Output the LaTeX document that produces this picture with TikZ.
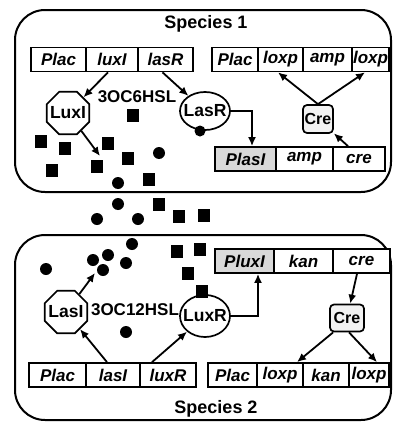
\documentclass[tikz,border=0pt]{standalone}
\usepackage{fontspec}
\setmainfont{Liberation Sans}
\usetikzlibrary{shapes.geometric,arrows.meta}
\begin{document}
\begin{tikzpicture}[x=1pt,y=-1pt,
  bigbox/.style={draw, line width=2pt, rounded corners=30pt},
  genecell/.style={draw, line width=1.7pt, minimum height=24pt, inner sep=0pt, fill=white,
    font=\fontsize{17}{17}\selectfont\bfseries\itshape},
  promcell/.style={genecell, fill=gray!30},
  octo/.style={draw, line width=1.7pt, regular polygon, regular polygon sides=8,
    minimum size=46pt, inner sep=0pt, fill=white, font=\fontsize{17.5}{17.5}\selectfont\bfseries},
  protein/.style={draw, line width=1.7pt, ellipse, inner sep=0pt, fill=white,
    font=\fontsize{17.5}{17.5}\selectfont\bfseries},
  crebox/.style={draw, line width=1.7pt, rounded corners=4pt, fill=gray!10,
    minimum width=32pt, minimum height=28pt, inner sep=0pt, font=\fontsize{16}{16}\selectfont\bfseries},
  labeltext/.style={font=\fontsize{18}{18}\selectfont\bfseries, inner sep=0pt},
  hsltext/.style={font=\fontsize{17}{17}\selectfont\bfseries, inner sep=0pt},
  arw/.style={line width=1.8pt, -{Latex[length=9pt,width=8pt]}},
  sqmol/.style={fill=black, minimum width=12pt, minimum height=13pt, inner sep=0pt},
  dotmol/.style={circle, fill=black, minimum size=12pt, inner sep=0pt}
]
\useasboundingbox (0,0) rectangle (393,423);
\fill[white] (0,0) rectangle (393,423);

% cell outlines
\draw[bigbox] (15,10) rectangle (391,192);
\draw[bigbox] (15,235) rectangle (391,420);

\node[labeltext] (sp1) at (206,24) {Species 1};
\node[labeltext] (sp2) at (216,409) {Species 2};

% ---------- Species 1 ----------
\node[genecell, minimum width=55pt] (aplac) at (58.5,59.5) {Plac};
\node[genecell, minimum width=52pt] (aluxi) at (112,59.5) {luxI};
\node[genecell, minimum width=55pt] (alasr) at (165.5,59.5) {lasR};

\node[genecell, minimum width=46pt] (bplac) at (235,59.5) {Plac};
\node[genecell, minimum width=45pt] (bloxa) at (280.5,59.5) {loxp};
\node[genecell, minimum width=49pt] (bamp) at (327.5,59.5) {amp};
\node[genecell, minimum width=37pt] (bloxb) at (370.5,59.5) {loxp};

\node[promcell, minimum width=61pt] (cplas) at (245.5,159) {PlasI};
\node[genecell, minimum width=57pt] (camp) at (304.5,159) {amp};
\node[genecell, minimum width=52pt] (ccre) at (359,159) {cre};

\node[octo] (luxi) at (68,113) {\makebox[0pt]{LuxI}};
\node[hsltext] (hsl6) at (137,97) {3OC6HSL};
\node[protein, minimum width=50pt, minimum height=38pt] (lasr) at (205,111) {\makebox[0pt]{LasR}};
\node[dotmol, minimum size=11pt] (lasrdot) at (200,131) {};
\node[crebox, minimum width=30pt] (creA) at (318,119) {Cre};

\coordinate (luxiout) at (100,156);
\draw[arw] ([xshift=-4pt]aluxi.south) -- (luxi);
\draw[arw] ([xshift=-3pt]alasr.south) -- (lasr);
\draw[arw] (luxi) -- (luxiout);
\draw[arw] (lasr.east) -| ([xshift=6.5pt]cplas.north);
\draw[arw] (creA.north) -- ([xshift=-2.5pt]bloxa.south);
\draw[arw] (creA.north) -- ([xshift=-5.5pt]bloxb.south);
\draw[arw] ([xshift=-11pt]ccre.north) -- (creA);

% ---------- Species 2 ----------
\node[genecell, minimum width=57pt] (dplac) at (57.5,375) {Plac};
\node[genecell, minimum width=54pt] (dlasi) at (113,375) {lasI};
\node[genecell, minimum width=56pt] (dluxr) at (168,375) {luxR};

\node[genecell, minimum width=49pt] (eplac) at (232.5,375) {Plac};
\node[genecell, minimum width=46pt] (eloxa) at (280,375) {loxp};
\node[genecell, minimum width=46pt] (ekan) at (326,375) {kan};
\node[genecell, minimum width=40pt] (eloxb) at (369,375) {loxp};

\node[promcell, minimum width=59pt] (fplux) at (244.5,261) {PluxI};
\node[genecell, minimum width=59pt] (fkan) at (303.5,261) {kan};
\node[genecell, minimum width=57pt] (fcre) at (361.5,261) {cre};

\node[octo] (lasi) at (66,312) {\makebox[0pt]{LasI}};
\node[hsltext] (hsl12) at (135,310) {3OC12HSL};
\node[protein, minimum width=50pt, minimum height=42pt] (luxr) at (205,316) {\makebox[0pt]{LuxR}};
\node[crebox, minimum width=34pt, minimum height=27pt] (creB) at (347,318) {Cre};

\coordinate (lasiout) at (95,273);
\draw[arw] ([xshift=-6pt]dlasi.north) -- (lasi);
\draw[arw] ([xshift=-16pt]dluxr.north) -- (luxr);
\draw[arw] (lasi) -- (lasiout);
\draw[arw] (luxr.east) -| ([xshift=13.5pt]fplux.south);
\draw[arw] ([xshift=-4.5pt]fcre.south) -- (creB);
\draw[arw] ([xshift=4pt]creB.south west) -- ([xshift=17pt]eloxa.north);
\draw[arw] ([xshift=2pt]creB.south) -- ([xshift=8pt]eloxb.north);

% ---------- signal molecules ----------
\foreach \x/\y [count=\i] in {133/115, 41/141, 65/148, 108/143, 128/158, 97/166, 52/170, 149/179,
  159/204, 179/216, 204/215, 177/251, 200/249, 188/273}
  \node[sqmol] (sq\i) at (\x,\y) {};
\node[sqmol] (sqlux) at (202,291) {};
\foreach \x/\y [count=\i] in {159/153, 118/183, 118/204, 97/219, 138/219,
  132/244, 108/255, 93/260, 103/270, 126/263, 46/269, 126/332}
  \node[dotmol] (dt\i) at (\x,\y) {};
\end{tikzpicture}
\end{document}
